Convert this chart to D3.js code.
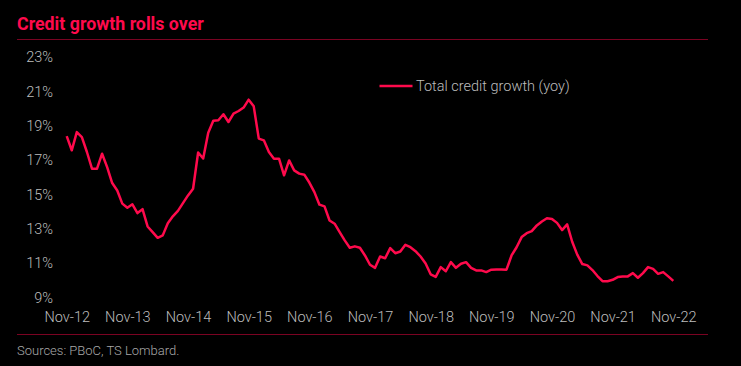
<!DOCTYPE html>
<html>
<head>
<meta charset="utf-8">
<script src="https://cdn.jsdelivr.net/npm/d3@7"></script>
<style>
  html, body { margin: 0; padding: 0; background: #000; }
  svg { display: block; }
</style>
</head>
<body>
<svg id="chart" width="741" height="366"></svg>
<script>
const title = "Credit growth rolls over";
const source = "Sources: PBoC, TS Lombard.";
const seriesName = "Total credit growth (yoy)";

// monthly, Nov-12 .. Nov-22
const xTickLabels = ["Nov-12","Nov-13","Nov-14","Nov-15","Nov-16","Nov-17","Nov-18","Nov-19","Nov-20","Nov-21","Nov-22"];
const yTicks = [9, 11, 13, 15, 17, 19, 21, 23];

const creditGrowth = [
  18.41, 17.58, 18.64, 18.35, 17.48, 16.51, 16.51, 17.38, 16.60, 15.67, 15.24, 14.47,
  14.23, 14.43, 13.92, 14.15, 13.14, 12.81, 12.48, 12.62, 13.33, 13.73, 14.05, 14.50,
  14.95, 15.34, 17.45, 17.10, 18.60, 19.30, 19.33, 19.68, 19.23, 19.72, 19.87, 20.07,
  20.53, 20.14, 18.26, 18.16, 17.48, 17.09, 17.09, 16.12, 16.99, 16.41, 16.22, 16.16,
  15.70, 15.14, 14.41, 14.31, 13.49, 13.30, 12.81, 12.33, 11.90, 11.98, 11.90, 11.45,
  10.91, 10.73, 11.39, 11.29, 11.88, 11.58, 11.68, 12.07, 11.93, 11.70, 11.39, 10.98,
  10.35, 10.20, 10.77, 10.53, 11.06, 10.73, 10.97, 11.06, 10.73, 10.58, 10.58, 10.48,
  10.62, 10.63, 10.63, 10.62, 11.45, 11.93, 12.52, 12.75, 12.87, 13.20, 13.43, 13.62,
  13.58, 13.35, 12.93, 13.26, 12.25, 11.50, 10.95, 10.87, 10.60, 10.25, 9.95, 9.95,
  10.03, 10.19, 10.23, 10.23, 10.42, 10.15, 10.42, 10.77, 10.67, 10.38, 10.48, 10.23,
  9.97
];

const RED = "#ff0a4c";
const RULE = "#7a0322";
const TXT = "#bdbdbd";
const FONT = "Roboto, 'Noto Sans', sans-serif";

const svg = d3.select("#chart");
svg.append("rect").attr("width", 741).attr("height", 366).attr("fill", "#000");

// title
svg.append("text")
  .attr("x", 17).attr("y", 29.5)
  .attr("fill", RED)
  .style("font-family", FONT).style("font-weight", "bold").style("font-size", "17.8px")
  .text(title);

svg.append("line").attr("x1", 17).attr("x2", 708).attr("y1", 39.5).attr("y2", 39.5)
  .attr("stroke", RULE).attr("stroke-width", 1);

svg.append("line").attr("x1", 17).attr("x2", 708).attr("y1", 334.5).attr("y2", 334.5)
  .attr("stroke", RULE).attr("stroke-width", 1);

svg.append("text")
  .attr("x", 17).attr("y", 355)
  .attr("fill", "#a8a8a8")
  .style("font-family", FONT).style("font-weight", 300).style("font-size", "13px")
  .text(source);

const x = d3.scaleLinear().domain([0, creditGrowth.length - 1]).range([66.7, 673.3]);
const y = d3.scaleLinear().domain([9, 23]).range([297.5, 57.3]);

// y axis
const yAxis = svg.append("g")
  .attr("transform", "translate(53,0)")
  .call(d3.axisLeft(y).tickValues(yTicks).tickSize(0).tickPadding(0).tickFormat(d => d + "%"));
yAxis.select(".domain").remove();
yAxis.selectAll("text")
  .attr("fill", TXT)
  .style("font-family", FONT).style("font-weight", 300).style("font-size", "14.5px");

// x axis
const xAxis = svg.append("g")
  .attr("transform", "translate(0,311.5)")
  .call(d3.axisBottom(x).tickValues(xTickLabels.map((d, i) => i * 12)).tickSize(0).tickPadding(0)
    .tickFormat((d, i) => xTickLabels[i]));
xAxis.select(".domain").remove();
xAxis.selectAll("text")
  .attr("fill", TXT)
  .style("font-family", FONT).style("font-weight", 300).style("font-size", "14.5px");

// line
const line = d3.line().x((d, i) => x(i)).y(d => y(d));
svg.append("path")
  .datum(creditGrowth)
  .attr("d", line)
  .attr("fill", "none")
  .attr("stroke", RED)
  .attr("stroke-width", 2.5)
  .attr("stroke-linejoin", "round");

// legend
svg.append("line").attr("x1", 379.5).attr("x2", 412.5).attr("y1", 86).attr("y2", 86)
  .attr("stroke", RED).attr("stroke-width", 2.5);
svg.append("text")
  .attr("x", 416).attr("y", 86).attr("dy", "0.35em")
  .attr("fill", TXT)
  .style("font-family", FONT).style("font-weight", 300).style("font-size", "14.5px")
  .text(seriesName);
</script>
</body>
</html>
